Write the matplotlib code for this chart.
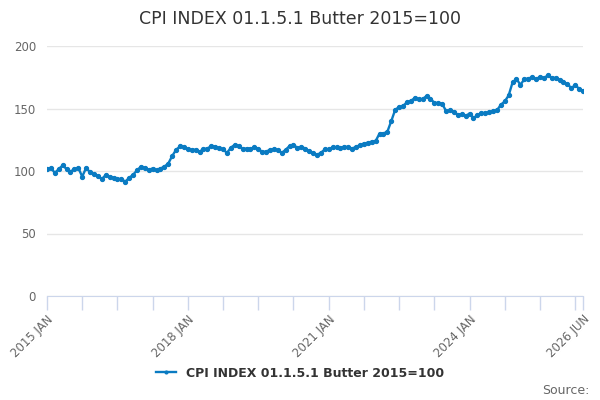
import matplotlib
matplotlib.use("Agg")
import matplotlib.pyplot as plt
import numpy as np

# monthly index values, 2015 JAN .. 2026 JUN
values = [
    101.6, 102.5, 98.5, 101.5, 104.5, 101.6, 99.5, 101.6, 102.5, 95.5, 102.5, 99.0,   # 2015
    97.4, 96.3, 93.5, 96.8, 95.2, 94.7, 93.6, 93.6, 91.5, 94.5, 97.0, 100.5,          # 2016
    103.5, 102.5, 101.0, 102.0, 100.5, 102.0, 103.5, 106.0, 112.0, 117.0, 119.7, 119.5,  # 2017
    117.3, 117.0, 117.0, 115.5, 117.5, 118.0, 120.0, 119.5, 118.3, 117.3, 114.5, 118.7,  # 2018
    121.0, 120.0, 117.6, 118.0, 117.5, 119.3, 117.8, 115.3, 115.5, 117.0, 117.5, 116.8,  # 2019
    114.5, 117.0, 120.0, 121.0, 118.5, 119.5, 118.0, 115.7, 114.3, 113.0, 114.5, 117.3,  # 2020
    117.3, 119.0, 119.0, 118.5, 119.5, 119.0, 118.0, 119.3, 120.8, 122.0, 122.6, 123.5,  # 2021
    124.0, 130.0, 130.0, 131.5, 140.0, 149.0, 151.2, 152.0, 155.0, 156.0, 158.5, 157.5,  # 2022
    157.5, 160.0, 158.0, 154.5, 154.4, 153.8, 148.0, 148.5, 147.5, 145.0, 145.5, 144.0,  # 2023
    146.0, 142.5, 144.5, 146.5, 146.3, 147.0, 148.0, 148.5, 153.0, 155.7, 160.5, 170.9,  # 2024
    173.6, 169.0, 173.3, 174.0, 175.0, 173.3, 175.5, 174.3, 176.5, 174.5, 174.5, 173.0,  # 2025
    171.4, 169.5, 166.5, 168.5, 166.0, 164.0,                                            # 2026
]
months = np.arange(len(values))

tick_pos = list(range(0, 136, 9)) + [137]
tick_labels = {0: "2015 JAN", 36: "2018 JAN", 72: "2021 JAN", 108: "2024 JAN", 137: "2026 JUN"}
series_name = "CPI INDEX 01.1.5.1 Butter 2015=100"

line_color = "#0a7bc2"
grey = "#666666"

fig = plt.figure(figsize=(6, 4), dpi=100)
ax = fig.add_axes([47 / 600, 104 / 400, 536 / 600, 250 / 400])

ax.plot(months, values, color=line_color, linewidth=1.7, marker="o", markersize=2.8,
        label=series_name)

ax.set_xlim(0, 137)
ax.set_ylim(0, 200)
ax.set_yticks([0, 50, 100, 150, 200])
ax.grid(axis="y", color="#e6e6e6", linewidth=1)
ax.set_axisbelow(True)

ax.set_xticks(tick_pos)
ax.set_xticklabels([tick_labels.get(p, "") for p in tick_pos], rotation=45,
                   ha="right", rotation_mode="anchor", fontsize=8.5, color=grey)
ax.tick_params(axis="x", length=10, color="#ccd6eb", width=1, pad=2)
ax.tick_params(axis="y", length=0, labelsize=8.5, labelcolor=grey, pad=8)

for side in ["top", "right", "left"]:
    ax.spines[side].set_visible(False)
ax.spines["bottom"].set_color("#ccd6eb")

fig.suptitle("CPI INDEX 01.1.5.1 Butter 2015=100", y=0.975, fontsize=12.5, color="#333333")

leg = fig.legend(loc="center", bbox_to_anchor=(0.5, 0.067), frameon=False,
                 fontsize=9, handlelength=1.6, markerscale=0.7)
for t in leg.get_texts():
    t.set_color("#333333")
    t.set_fontweight("bold")

fig.text(0.983, 0.025, "Source:", ha="right", va="center", fontsize=9, color=grey)

fig.savefig("out.png", dpi=100)
